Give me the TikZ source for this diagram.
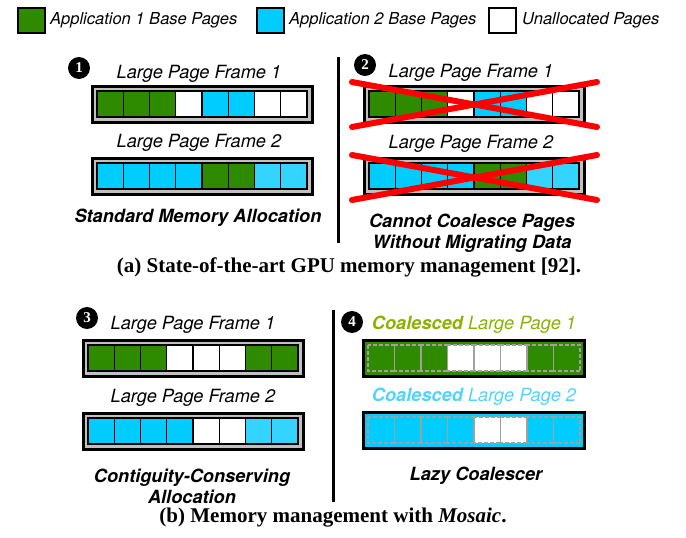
\documentclass[tikz,border=0pt]{standalone}
\usepackage{fontspec}
\setmainfont{Liberation Serif}
\newfontfamily\helv{TeX Gyre Heros}
\usetikzlibrary{calc}

\definecolor{appgreen}{RGB}{46,139,0}
\definecolor{appcyan}{RGB}{0,204,255}
\definecolor{paleblue}{RGB}{51,212,255}
\definecolor{framegray}{RGB}{192,192,192}
\definecolor{dashgray}{RGB}{160,160,160}
\definecolor{crossred}{RGB}{255,0,0}
\definecolor{olivetitle}{RGB}{138,178,0}
\definecolor{cyantitle}{RGB}{80,212,255}

\begin{document}
\begin{tikzpicture}[x=1pt, y=-1pt,
  legbox/.style={draw=black, line width=1.2pt},
  legtext/.style={anchor=west, inner sep=0pt, font=\helv\itshape\fontsize{16.5}{18}\selectfont},
  frametitle/.style={inner sep=0pt, font=\helv\itshape\fontsize{18.2}{20}\selectfont},
  subtitle/.style={inner sep=0pt, align=center, font=\helv\bfseries\itshape\fontsize{18.2}{21}\selectfont},
  caption/.style={inner sep=0pt, font=\bfseries\fontsize{21}{24}\selectfont},
  bullet/.style={circle, fill=black, text=white, inner sep=0pt, minimum size=22pt, font=\bfseries\fontsize{15}{15}\selectfont},
  frame/.style={draw=black, line width=3pt, fill=framegray},
  cell/.style={draw=black, line width=1.2pt},
  lazyframe/.style={draw=black, line width=3pt},
  lazycell/.style={draw=dashgray, line width=1.3pt, dash pattern=on 4pt off 2pt},
  cross/.style={draw=crossred, line width=6pt, line cap=round},
  divider/.style={draw=black, line width=3pt}
]
  \useasboundingbox (0,0) rectangle (686,538);

  % Legend
  \draw[legbox, fill=appgreen] (18,8) rectangle (45,33);
  \node[legtext] (leg1) at (50,20.5) {Application 1 Base Pages};
  \draw[legbox, fill=appcyan] (257,8) rectangle (284,33);
  \node[legtext] (leg2) at (289,20.5) {Application 2 Base Pages};
  \draw[legbox, fill=white] (489,8) rectangle (516,33);
  \node[legtext] (leg3) at (522,20.5) {Unallocated Pages};

  % Frame origins (top left of the cell strip)
  \coordinate (std1) at (97,91);
  \coordinate (std2) at (97,163);
  \coordinate (mig1) at (369,91);
  \coordinate (mig2) at (369,163);
  \coordinate (ccs1) at (88,345);
  \coordinate (ccs2) at (88,418);
  \coordinate (lazy1) at (368,345);
  \coordinate (lazy2) at (368,417);

  % (1) Standard memory allocation
  \node[bullet] (b1) at (79,68) {1};
  \node[frametitle] (t11) at (199,74) {Large Page Frame 1};
  \draw[frame] ($(std1)+(-5,-5)$) rectangle ($(std1)+(215,31)$);
  \foreach \c [count=\i from 0] in {appgreen,appgreen,appgreen,white,appcyan,appcyan,white,white}
    \draw[cell, fill=\c] ($(std1)+(\i*26.25,0)$) rectangle +(26.25,26);
  \node[frametitle] (t12) at (199,143) {Large Page Frame 2};
  \draw[frame] ($(std2)+(-5,-5)$) rectangle ($(std2)+(215,31)$);
  \foreach \c [count=\i from 0] in {appcyan,appcyan,appcyan,appcyan,appgreen,appgreen,paleblue,paleblue}
    \draw[cell, fill=\c] ($(std2)+(\i*26.25,0)$) rectangle +(26.25,26);
  \node[subtitle] (s1) at (198,218) {Standard Memory Allocation};

  % divider
  \draw[divider] (338,57) -- (338,243);

  % (2) Cannot coalesce
  \node[bullet] (b2) at (365,65) {2};
  \node[frametitle] (t21) at (471,73) {Large Page Frame 1};
  \draw[frame] ($(mig1)+(-5,-5)$) rectangle ($(mig1)+(215,31)$);
  \foreach \c [count=\i from 0] in {appgreen,appgreen,appgreen,white,appcyan,appcyan,white,white}
    \draw[cell, fill=\c] ($(mig1)+(\i*26.25,0)$) rectangle +(26.25,26);
  \draw[cross] ($(mig1)+(-17,-9)$) -- ($(mig1)+(228,36)$);
  \draw[cross] ($(mig1)+(-17,36)$) -- ($(mig1)+(228,-9)$);
  \node[frametitle] (t22) at (471,144) {Large Page Frame 2};
  \draw[frame] ($(mig2)+(-5,-5)$) rectangle ($(mig2)+(215,31)$);
  \foreach \c [count=\i from 0] in {appcyan,appcyan,appcyan,appcyan,appgreen,appgreen,paleblue,paleblue}
    \draw[cell, fill=\c] ($(mig2)+(\i*26.25,0)$) rectangle +(26.25,26);
  \draw[cross] ($(mig2)+(-17,-8)$) -- ($(mig2)+(228,37)$);
  \draw[cross] ($(mig2)+(-17,37)$) -- ($(mig2)+(228,-8)$);
  \node[subtitle] (s2) at (472,233) {Cannot Coalesce Pages\\Without Migrating Data};

  \node[caption] (capa) at (349,267) {(a) State-of-the-art GPU memory management [92].};

  % (3) Contiguity-conserving allocation
  \node[bullet] (b3) at (87,318) {3};
  \node[frametitle] (t31) at (193,325) {Large Page Frame 1};
  \draw[frame] ($(ccs1)+(-5,-5)$) rectangle ($(ccs1)+(215,31)$);
  \foreach \c [count=\i from 0] in {appgreen,appgreen,appgreen,white,white,white,appgreen,appgreen}
    \draw[cell, fill=\c] ($(ccs1)+(\i*26.25,0)$) rectangle +(26.25,26);
  \node[frametitle] (t32) at (193,398) {Large Page Frame 2};
  \draw[frame] ($(ccs2)+(-5,-5)$) rectangle ($(ccs2)+(215,31)$);
  \foreach \c [count=\i from 0] in {appcyan,appcyan,appcyan,appcyan,white,white,paleblue,paleblue}
    \draw[cell, fill=\c] ($(ccs2)+(\i*26.25,0)$) rectangle +(26.25,26);
  \node[subtitle] (s3) at (192,486) {Contiguity-Conserving\\Allocation};

  % divider
  \draw[divider] (333,310) -- (333,502);

  % (4) Lazy coalescer
  \node[bullet] (b4) at (352,322) {4};
  \node[frametitle, text=olivetitle] (t41) at (474,325) {{\bfseries Coalesced} Large Page 1};
  \draw[lazyframe, fill=appgreen] ($(lazy1)+(-5,-5)$) rectangle ($(lazy1)+(216,31)$);
  \foreach \i in {3,4,5}
    \fill[white] ($(lazy1)+(\i*26.5,0)$) rectangle +(26.5,26);
  \foreach \i in {0,...,7}
    \draw[lazycell] ($(lazy1)+(\i*26.5,0)$) rectangle +(26.5,26);
  \node[frametitle, text=cyantitle] (t42) at (474,397) {{\bfseries Coalesced} Large Page 2};
  \draw[lazyframe, fill=appcyan] ($(lazy2)+(-5,-5)$) rectangle ($(lazy2)+(216,31)$);
  \foreach \i in {4,5}
    \fill[white] ($(lazy2)+(\i*26.5,0)$) rectangle +(26.5,26);
  \foreach \i in {0,...,7}
    \draw[lazycell] ($(lazy2)+(\i*26.5,0)$) rectangle +(26.5,26);
  \node[subtitle] (s4) at (476,476) {Lazy Coalescer};

  \node[caption] (capb) at (333,518) {(b) Memory management with \textit{Mosaic}.};
\end{tikzpicture}
\end{document}
